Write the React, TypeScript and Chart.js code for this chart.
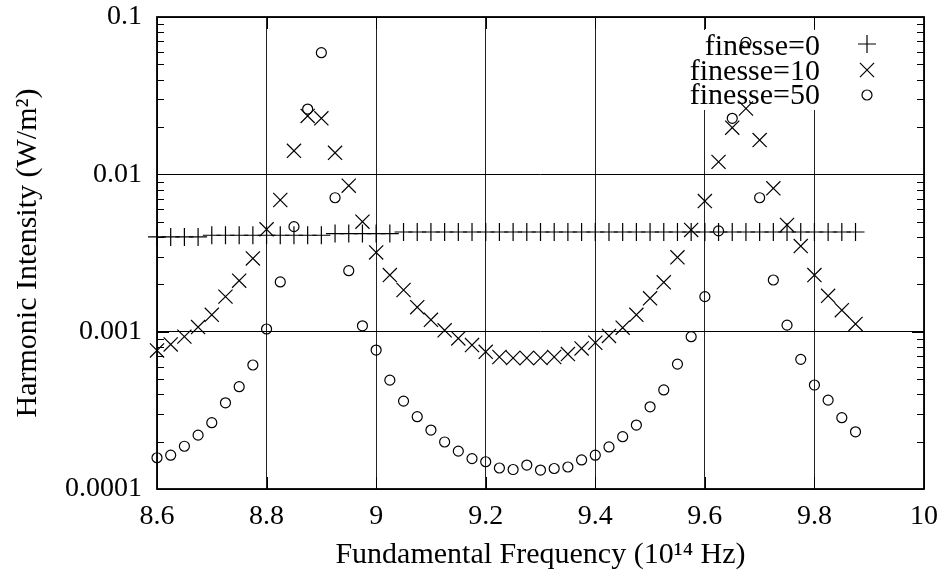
import React, { useEffect, useRef } from 'react';
import { Chart, registerables } from 'chart.js';

Chart.register(...registerables);

// ---------- data ----------
const frequencies = [
  8.6, 8.625, 8.65, 8.675, 8.7, 8.725, 8.75, 8.775,
  8.8, 8.825, 8.85, 8.875, 8.9, 8.925, 8.95, 8.975,
  9.0, 9.025, 9.05, 9.075, 9.1, 9.125, 9.15, 9.175,
  9.2, 9.225, 9.25, 9.275, 9.3, 9.325, 9.35, 9.375,
  9.4, 9.425, 9.45, 9.475, 9.5, 9.525, 9.55, 9.575,
  9.6, 9.625, 9.65, 9.675, 9.7, 9.725, 9.75, 9.775,
  9.8, 9.825, 9.85, 9.875,
];

const finesse0 = [
  0.0040, 0.0040, 0.0040, 0.0040, 0.0041, 0.0041, 0.0041, 0.0041,
  0.0041, 0.0041, 0.0041, 0.0041, 0.0041, 0.0042, 0.0042, 0.0042,
  0.0042, 0.0042, 0.0043, 0.0043, 0.0043, 0.0043, 0.0043, 0.0043,
  0.0043, 0.0043, 0.0043, 0.0043, 0.0043, 0.0043, 0.0043, 0.0043,
  0.0043, 0.0043, 0.0043, 0.0043, 0.0043, 0.0043, 0.0043, 0.0043,
  0.0043, 0.0043, 0.0043, 0.0043, 0.0043, 0.0043, 0.0043, 0.0043,
  0.0043, 0.0043, 0.0043, 0.0043,
];

const finesse10 = [
  0.00076, 0.00083, 0.00093, 0.00107, 0.00128, 0.00167, 0.00211, 0.00292,
  0.00447, 0.00687, 0.0141, 0.0235, 0.0227, 0.0137, 0.00847, 0.0050,
  0.00319, 0.00229, 0.00184, 0.00143, 0.00119, 0.00102, 0.000906, 0.000822,
  0.000745, 0.00069, 0.00068, 0.00068, 0.00068, 0.00069, 0.00072, 0.000783,
  0.00085, 0.00094, 0.00106, 0.00128, 0.00163, 0.00206, 0.00297, 0.00443,
  0.00676, 0.0120, 0.0198, 0.0262, 0.0165, 0.00815, 0.00477, 0.0035,
  0.00229, 0.00169, 0.00137, 0.00112,
];

const finesse50 = [
  0.000158, 0.000164, 0.000187, 0.00022, 0.000264, 0.000353, 0.000447, 0.000614,
  0.00104, 0.00207, 0.00465, 0.026, 0.0593, 0.0071, 0.00244, 0.00109,
  0.000764, 0.000492, 0.000362, 0.000288, 0.000237, 0.000199, 0.000174, 0.000156,
  0.000149, 0.000136, 0.000133, 0.000142, 0.000132, 0.000135, 0.000138, 0.000153,
  0.000164, 0.000185, 0.000215, 0.000255, 0.000333, 0.000426, 0.000622, 0.000929,
  0.00167, 0.00437, 0.0227, 0.069, 0.0071, 0.00213, 0.0011, 0.000667,
  0.000458, 0.000367, 0.000284, 0.000231,
];

const seriesLabels = ['finesse=0', 'finesse=10', 'finesse=50'];
const xTickValues = [8.6, 8.8, 9, 9.2, 9.4, 9.6, 9.8, 10];
const xTickLabels = ['8.6', '8.8', '9', '9.2', '9.4', '9.6', '9.8', '10'];
const yTickValues = [0.0001, 0.001, 0.01, 0.1];
const yTickLabels = ['0.0001', '0.001', '0.01', '0.1'];
const yMinorMultipliers = [2, 3, 4, 5, 6, 7, 8, 9];
const xTitle = 'Fundamental Frequency (10\u00B9\u2074 Hz)';
const yTitle = 'Harmonic Intensity (W/m\u00B2)';

// ---------- styling ----------
const FONT = '"Liberation Serif", "Times New Roman", serif';
const styles = [
  { pointStyle: 'cross', radius: 9 },
  { pointStyle: 'crossRot', radius: 10 },
  { pointStyle: 'circle', radius: 5 },
];

function drawMarker(ctx: CanvasRenderingContext2D, style: string, r: number, x: number, y: number) {
  ctx.beginPath();
  if (style === 'cross') {
    ctx.moveTo(x - r, y); ctx.lineTo(x + r, y);
    ctx.moveTo(x, y - r); ctx.lineTo(x, y + r);
  } else if (style === 'crossRot') {
    const d = r * Math.SQRT1_2;
    ctx.moveTo(x - d, y - d); ctx.lineTo(x + d, y + d);
    ctx.moveTo(x - d, y + d); ctx.lineTo(x + d, y - d);
  } else {
    ctx.arc(x, y, r, 0, Math.PI * 2);
  }
  ctx.stroke();
}

const gnuplotPlugin = {
  id: 'gnuplotFrame',
  beforeDatasetsDraw(chart: any) {
    const { ctx, chartArea } = chart;
    const a = chartArea;
    ctx.save();
    // opaque legend box (hides grid)
    ctx.fillStyle = '#fff';
    ctx.fillRect(a.right - 242, a.top + 13, 220, 80);
    ctx.fillStyle = '#000';
    ctx.strokeStyle = '#000';
    ctx.lineWidth = 1.2;
    ctx.font = `30px ${FONT}`;
    ctx.textAlign = 'right';
    ctx.textBaseline = 'alphabetic';
    const baselines = [38, 63, 87];
    const markerY = [27, 53, 78];
    seriesLabels.forEach((lab, i) => {
      ctx.fillText(lab, a.right - 104, a.top + baselines[i]);
      drawMarker(ctx, styles[i].pointStyle, styles[i].radius, a.right - 57, a.top + markerY[i]);
    });
    ctx.restore();
  },
  afterDraw(chart: any) {
    const { ctx, chartArea: a, scales } = chart;
    ctx.save();
    ctx.strokeStyle = '#000';
    ctx.lineWidth = 1;
    ctx.beginPath();
    for (let d = 0; d < yTickValues.length - 1; d++) {
      yMinorMultipliers.forEach((m) => {
        const py = Math.round(scales.y.getPixelForValue(yTickValues[d] * m)) + 0.5;
        ctx.moveTo(a.left, py); ctx.lineTo(a.left + 7, py);
        ctx.moveTo(a.right, py); ctx.lineTo(a.right - 7, py);
      });
    }
    yTickValues.forEach((v) => {
      const py = Math.round(scales.y.getPixelForValue(v)) + 0.5;
      ctx.moveTo(a.left, py); ctx.lineTo(a.left + 12, py);
      ctx.moveTo(a.right, py); ctx.lineTo(a.right - 12, py);
    });
    xTickValues.forEach((v) => {
      const px = Math.round(scales.x.getPixelForValue(v)) + 0.5;
      ctx.moveTo(px, a.top); ctx.lineTo(px, a.top + 12);
      ctx.moveTo(px, a.bottom); ctx.lineTo(px, a.bottom - 12);
    });
    ctx.stroke();
    ctx.lineWidth = 1.8;
    ctx.strokeRect(a.left, a.top, a.right - a.left, a.bottom - a.top);
    ctx.restore();
  },
};

export default function App() {
  const canvasRef = useRef<HTMLCanvasElement | null>(null);

  useEffect(() => {
    const canvas = canvasRef.current;
    if (!canvas) return;
    const series = [finesse0, finesse10, finesse50];
    const chart = new Chart(canvas, {
      type: 'scatter',
      data: {
        datasets: series.map((vals, i) => ({
          label: seriesLabels[i],
          data: frequencies.map((x, j) => ({ x, y: vals[j] })),
          pointStyle: styles[i].pointStyle as any,
          pointRadius: styles[i].radius,
          pointBorderWidth: 1.2,
          borderColor: '#000',
          backgroundColor: 'rgba(0,0,0,0)',
          pointBackgroundColor: 'rgba(0,0,0,0)',
          showLine: false,
          clip: false as any,
        })),
      },
      options: {
        animation: false,
        responsive: false,
        devicePixelRatio: 1,
        layout: { padding: { top: 17, right: 22, left: 0, bottom: 0 } },
        plugins: { legend: { display: false }, tooltip: { enabled: false } },
        scales: {
          x: {
            type: 'linear',
            min: 8.6,
            max: 10,
            afterBuildTicks: (s: any) => { s.ticks = xTickValues.map((v) => ({ value: v })); },
            afterFit: (s: any) => {
              s.height = 84;
              s.paddingLeft = 0; s.paddingRight = 0; s.paddingTop = 0; s.paddingBottom = 0;
            },
            ticks: {
              callback: (v: any) => xTickLabels[xTickValues.indexOf(Number(v))] ?? '',
              font: { family: FONT, size: 28 },
              color: '#000',
              padding: 11,
              maxRotation: 0,
              autoSkip: false,
            },
            grid: { color: '#222', lineWidth: 1, drawTicks: false },
            border: { display: false },
            title: {
              display: true,
              text: xTitle,
              font: { family: FONT, size: 30 },
              color: '#000',
              padding: { top: 0, bottom: 0 },
            },
          },
          y: {
            type: 'logarithmic',
            min: 0.0001,
            max: 0.1,
            afterBuildTicks: (s: any) => { s.ticks = yTickValues.map((v) => ({ value: v })); },
            afterFit: (s: any) => {
              s.width = 157;
              s.paddingLeft = 0; s.paddingRight = 0; s.paddingTop = 0; s.paddingBottom = 0;
            },
            ticks: {
              callback: (v: any) => yTickLabels[yTickValues.indexOf(Number(v))] ?? '',
              font: { family: FONT, size: 28 },
              color: '#000',
              padding: 15,
              autoSkip: false,
            },
            grid: { color: '#000', lineWidth: 1, drawTicks: false },
            border: { display: false },
            title: {
              display: true,
              text: yTitle,
              font: { family: FONT, size: 30 },
              color: '#000',
              padding: { top: 10, bottom: 0 },
            },
          },
        },
      },
      plugins: [gnuplotPlugin],
    } as any);
    return () => chart.destroy();
  }, []);

  return (
    <div style={{ position: 'absolute', left: 0, top: 0, width: 946, height: 573, background: '#fff' }}>
      <canvas ref={canvasRef} width={946} height={573} style={{ display: 'block', width: 946, height: 573 }} />
    </div>
  );
}
